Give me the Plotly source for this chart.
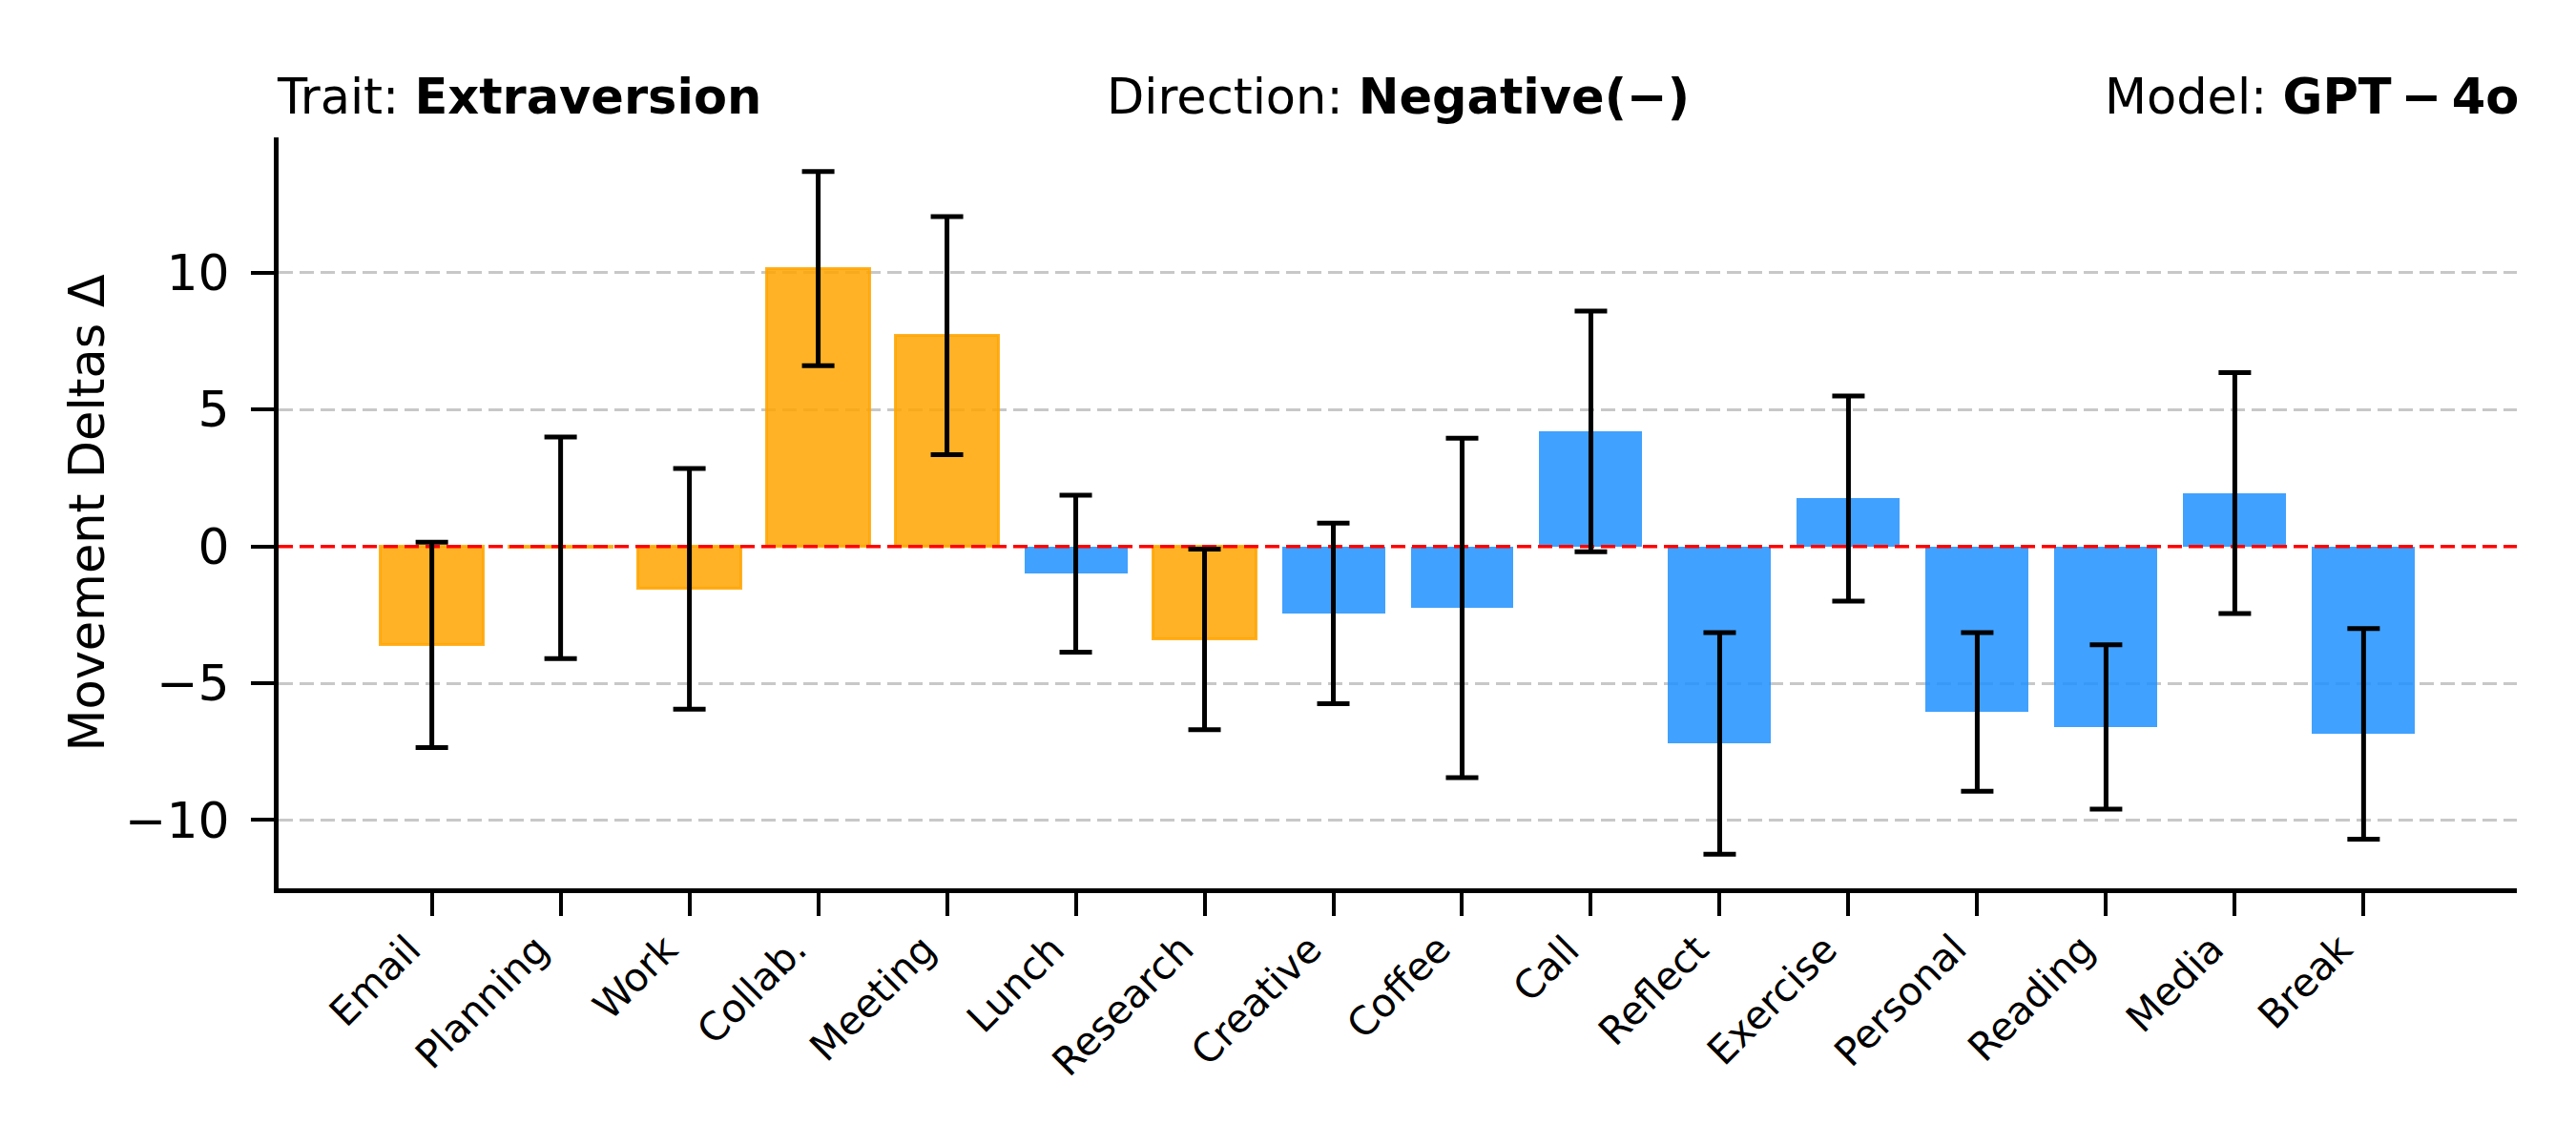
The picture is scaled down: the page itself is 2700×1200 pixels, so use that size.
import plotly.graph_objects as go

categories = ["Email", "Planning", "Work", "Collab.", "Meeting", "Lunch", "Research",
              "Creative", "Coffee", "Call", "Reflect", "Exercise", "Personal",
              "Reading", "Media", "Break"]
means = [-3.6, -0.05, -1.55, 10.15, 7.7, -1.0, -3.4, -2.45, -2.25, 4.2, -7.2, 1.75,
         -6.05, -6.6, 1.95, -6.85]
errors = [3.75, 4.05, 4.4, 3.55, 4.35, 2.87, 3.3, 3.3, 6.2, 4.4, 4.05, 3.75, 2.9,
          3.0, 4.4, 3.85]
group = ["A", "A", "A", "A", "A", "B", "A", "B", "B", "B", "B", "B", "B", "B", "B", "B"]
yticks = [-10, -5, 0, 5, 10]

FONT = "DejaVu Sans"
fill = {"A": "rgba(255,165,0,0.85)", "B": "rgba(30,144,255,0.85)"}
edge = {"A": "rgba(255,165,0,0.85)", "B": "rgba(30,144,255,0)"}
edge_w = {"A": 3, "B": 0}

n = len(categories)
xs = list(range(n))
bar_w = 0.8
span = (n - 1) + bar_w
xlo = -bar_w / 2 - 0.05 * span
xhi = (n - 1) + bar_w / 2 + 0.05 * span
lows = [m - e for m, e in zip(means, errors)]
highs = [m + e for m, e in zip(means, errors)]
ymin, ymax = min(lows), max(highs)
ylo = ymin - 0.05 * (ymax - ymin)
yhi = ymax + 0.05 * (ymax - ymin)

fig = go.Figure()
fig.add_trace(go.Bar(
    x=xs, y=means, width=bar_w,
    marker=dict(color=[fill[g] for g in group],
                line=dict(color=[edge[g] for g in group], width=[edge_w[g] for g in group])),
    showlegend=False, hoverinfo="skip",
))
# zero reference line spanning the axis
fig.add_trace(go.Scatter(
    x=[xlo, xhi], y=[0, 0], mode="lines",
    line=dict(color="red", width=3.5, dash="15px,7px"),
    showlegend=False, hoverinfo="skip",
))
fig.add_trace(go.Scatter(
    x=xs, y=means, mode="markers",
    marker=dict(size=1, color="rgba(0,0,0,0)"),
    error_y=dict(type="data", array=errors, visible=True, color="black",
                 thickness=5, width=17),
    showlegend=False, hoverinfo="skip",
))

fig.update_layout(
    width=2700, height=1200,
    paper_bgcolor="white", plot_bgcolor="white",
    margin=dict(l=284, r=70, t=136, b=277),
    font=dict(family=FONT, color="black", size=50),
    bargap=0,
)
fig.update_xaxes(
    range=[xlo, xhi], tickvals=xs, showticklabels=False,
    showline=True, linecolor="black", linewidth=5,
    ticks="outside", ticklen=24, tickwidth=4, tickcolor="black",
    showgrid=False, zeroline=False,
)
fig.update_yaxes(
    range=[ylo, yhi], tickvals=yticks,
    tickfont=dict(family=FONT, size=52, color="black"),
    ticklabelstandoff=12,
    showline=True, linecolor="black", linewidth=5,
    ticks="outside", ticklen=24, tickwidth=4, tickcolor="black",
    showgrid=True, gridcolor="#c8c8c8", gridwidth=3, griddash="15px,7px",
    zeroline=False,
    title=dict(text="Movement Deltas Δ", font=dict(family=FONT, size=51, color="black"),
               standoff=6),
)

# category labels, rotated 45 degrees, right/top aligned under each tick
for i, lab in zip(xs, categories):
    fig.add_annotation(text=lab, x=i, xref="x", y=0, yref="paper",
                       xanchor="right", yanchor="top", textangle=-45,
                       xshift=-1, yshift=-38, showarrow=False, borderpad=0,
                       font=dict(family=FONT, size=41, color="black"))

title_font = dict(family=FONT, size=51, color="black")
for txt, xpos, anchor, xs_ in [
    ("Trait: <b>Extraversion</b>", 0.0, "left", -4),
    ("Direction: <b>Negative(−)</b>", 0.5, "center", 0),
    ("Model: <b>GPT\u2009−\u20094o</b>", 1.0, "right", 4),
]:
    fig.add_annotation(text=txt, xref="paper", yref="paper", x=xpos, y=1.0,
                       xanchor=anchor, yanchor="bottom", yshift=11, xshift=xs_,
                       showarrow=False, font=title_font)

fig.write_html("out.html")
